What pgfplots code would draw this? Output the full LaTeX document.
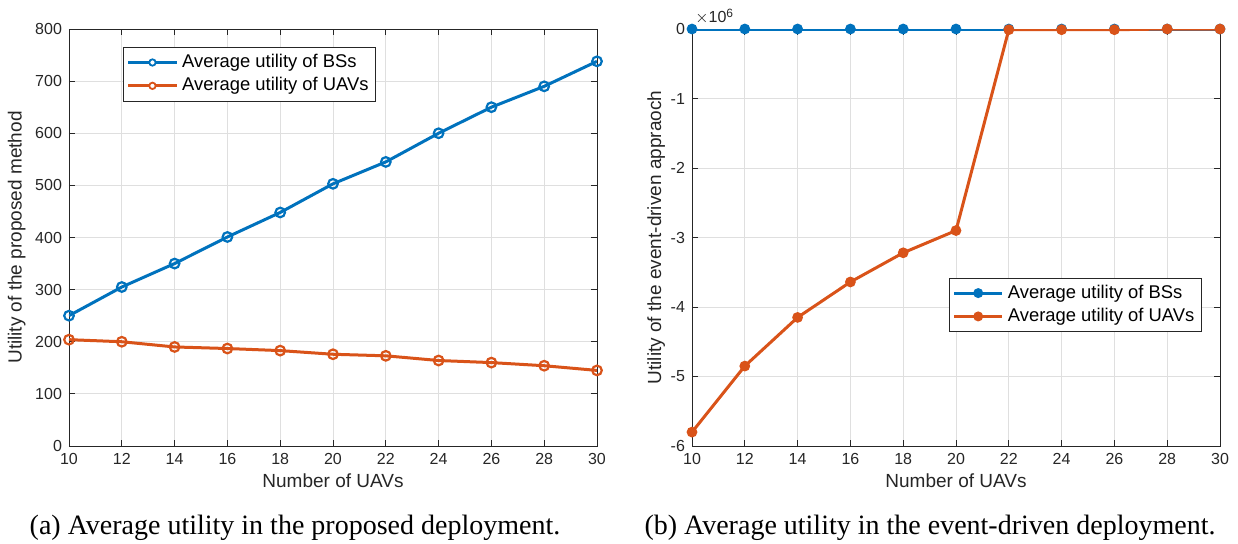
\documentclass[border=0pt]{standalone}
\usepackage{fontspec}
\setmainfont{Liberation Serif}
\newfontfamily\chartfont{Liberation Sans}
\usepackage{pgfplots}
\pgfplotsset{compat=1.18}
\definecolor{mblue}{RGB}{0,114,189}
\definecolor{morange}{RGB}{217,83,25}
\definecolor{axgray}{RGB}{38,38,38}

\pgfplotsset{
  matlab/.style={
    scale only axis, width=264pt, height=208.5pt,
    xmin=10, xmax=30, xtick={10,12,...,30},
    grid=major, major grid style={gray!25, line width=0.4pt},
    axis line style={axgray, line width=0.4pt},
    tick style={axgray, line width=0.4pt},
    tick align=inside, major tick length=3pt,
    ticklabel style={font=\chartfont\fontsize{8}{9}\selectfont, text=axgray},
    label style={font=\chartfont\fontsize{9.5}{11}\selectfont, text=axgray},
    /pgf/number format/assume math mode=true,
    xlabel={Number of UAVs},
    xlabel style={yshift=2pt},
    legend style={font=\chartfont\fontsize{9.2}{10.5}\selectfont, draw=axgray, line width=0.4pt,
      inner sep=1.5pt, row sep=-0.5pt},
    legend cell align=left,
    clip mode=individual,
  }
}

\begin{document}
\begin{tikzpicture}
\useasboundingbox (0,0) rectangle (619pt,-272pt);

% (a) proposed deployment
\begin{axis}[matlab, at={(34.5pt,-223pt)}, anchor=south west,
  ymin=0, ymax=800, ytick={0,100,...,800},
  ylabel={Utility of the proposed method},
  ylabel style={yshift=-2pt},
  legend style={at={(0.103,0.957)}, anchor=north west},
  legend image code/.code={
    \draw[#1, line width=1.5pt] (0cm,0cm) -- (0.85cm,0cm);
    \draw[#1, line width=0.9pt, fill=white] (0.425cm,0cm) circle (1.6pt);}
]
\addplot[mblue, line width=1.5pt, mark=o, mark size=2.4pt, mark options={line width=1.1pt}]
  coordinates {(10,250) (12,305) (14,350) (16,401) (18,448) (20,503) (22,545) (24,600) (26,650) (28,690) (30,738)};
\addlegendentry{Average utility of BSs}
\addplot[morange, line width=1.5pt, mark=o, mark size=2.4pt, mark options={line width=1.1pt}]
  coordinates {(10,204) (12,200) (14,190) (16,187) (18,183) (20,176) (22,173) (24,164) (26,160) (28,154) (30,145)};
\addlegendentry{Average utility of UAVs}
\end{axis}

% (b) event-driven deployment, values in units of 10^6
\begin{axis}[matlab, at={(346pt,-223pt)}, anchor=south west,
  ymin=-6, ymax=0, ytick={-6,-5,...,0},
  ylabel={Utility of the event-driven appraoch},
  ylabel style={yshift=-4pt},
  legend style={at={(0.487,0.404)}, anchor=north west},
  legend image code/.code={
    \draw[#1, line width=1.5pt] (0cm,0cm) -- (0.85cm,0cm);
    \fill[#1] (0.425cm,0cm) circle (1.7pt);}
]
\addplot[mblue, line width=1.5pt, mark=*, mark size=1.9pt]
  coordinates {(10,0) (12,0) (14,0) (16,0) (18,0) (20,0) (22,0) (24,0) (26,0) (28,0) (30,0)};
\addlegendentry{Average utility of BSs}
\addplot[morange, line width=1.5pt, mark=*, mark size=1.9pt]
  coordinates {(10,-5.8) (12,-4.85) (14,-4.15) (16,-3.64) (18,-3.22) (20,-2.9) (22,-0.01) (24,-0.01) (26,-0.01) (28,0) (30,0)};
\addlegendentry{Average utility of UAVs}
\node[anchor=south west, inner sep=0pt, xshift=1.5pt, yshift=2pt, text=axgray, font=\chartfont\fontsize{8}{9}\selectfont]
  at (rel axis cs:0,1) {$\times$10\textsuperscript{6}};
\end{axis}

\node[font=\fontsize{14}{16}\selectfont] at (147.5pt,-264pt) {(a) Average utility in the proposed deployment.};
\node[font=\fontsize{14}{16}\selectfont] at (465pt,-264pt) {(b) Average utility in the event-driven deployment.};
\end{tikzpicture}
\end{document}
